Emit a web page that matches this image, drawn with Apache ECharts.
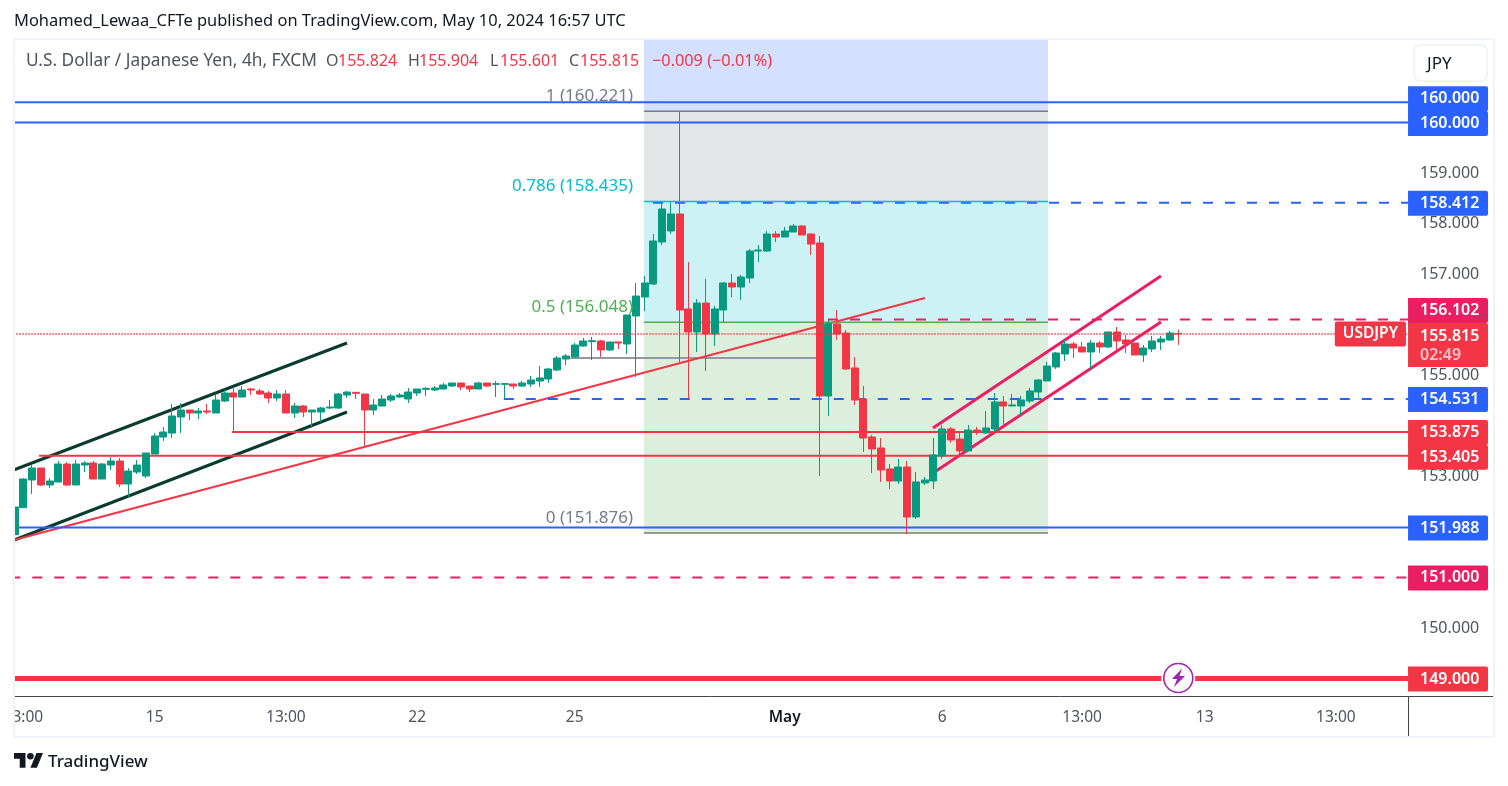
<!DOCTYPE html>
<html>
<head>
<meta charset="utf-8">
<style>html,body{margin:0;padding:0;background:#fff}#main{width:1508px;height:786px}</style>
<script src="https://cdn.jsdelivr.net/npm/echarts@6/dist/echarts.min.js"></script>
</head>
<body>
<div id="main"></div>
<script>
var FONT = '"Noto Sans", sans-serif';
var UP = '#089981', DOWN = '#f23645', BLUE = '#2962ff', PINK = '#e91e63';

// [open, close, low, high]
var candles = [
[151.845,152.393,151.845,152.511],[152.379,152.947,152.373,152.966],[152.927,153.164,152.650,153.223],[153.164,152.828,152.808,153.164],
[152.828,152.907,152.768,152.966],[152.887,153.243,152.887,153.303],[153.243,152.828,152.808,153.283],[152.828,153.243,152.828,153.322],
[153.223,153.263,153.085,153.303],[153.263,152.947,152.947,153.303],[152.947,153.243,152.947,153.263],[153.223,153.303,153.125,153.382],
[153.303,152.848,152.788,153.362],[152.848,153.105,152.590,153.164],[153.085,153.223,153.045,153.322],[153.006,153.461,152.966,153.461],
[153.441,153.797,153.441,153.856],[153.777,153.876,153.698,153.975],[153.856,154.193,153.758,154.430],[154.173,154.311,153.856,154.450],
[154.311,154.252,154.114,154.311],[154.252,154.292,154.133,154.351],[154.292,154.272,154.232,154.430],[154.252,154.509,154.252,154.608],
[154.489,154.648,154.470,154.707],[154.648,154.569,153.876,154.766],[154.569,154.707,154.569,154.786],[154.727,154.707,154.608,154.747],
[154.687,154.628,154.608,154.727],[154.648,154.549,154.450,154.687],[154.549,154.628,154.489,154.707],[154.628,154.252,154.252,154.707],
[154.252,154.391,154.153,154.450],[154.391,154.272,154.173,154.410],[154.272,154.311,153.955,154.311],[154.272,154.351,154.074,154.371],
[154.351,154.371,154.331,154.509],[154.351,154.628,154.331,154.648],[154.608,154.667,154.549,154.687],[154.661,154.641,154.529,154.661],
[154.628,154.312,153.599,154.628],[154.312,154.411,154.213,154.529],[154.391,154.529,154.391,154.608],[154.509,154.589,154.470,154.628],
[154.569,154.608,154.549,154.648],[154.529,154.668,154.450,154.747],[154.648,154.727,154.589,154.727],[154.720,154.740,154.589,154.767],
[154.707,154.747,154.687,154.786],[154.727,154.806,154.720,154.846],[154.786,154.846,154.767,154.846],[154.846,154.767,154.707,154.846],
[154.786,154.727,154.668,154.786],[154.727,154.846,154.727,154.865],[154.846,154.786,154.767,154.846],[154.819,154.833,154.569,154.885],
[154.819,154.833,154.529,154.846],[154.826,154.786,154.727,154.826],[154.786,154.846,154.767,154.885],[154.826,154.905,154.767,154.984],
[154.885,154.945,154.767,155.182],[154.925,155.123,154.846,155.142],[155.103,155.340,155.083,155.380],[155.320,155.380,155.202,155.419],
[155.360,155.597,155.360,155.637],[155.578,155.677,155.558,155.736],[155.663,155.683,155.301,155.756],[155.677,155.499,155.360,155.696],
[155.499,155.657,155.479,155.657],[155.657,155.637,155.518,155.657],[155.617,156.191,155.419,156.191],[156.171,156.567,154.964,156.824],
[156.547,156.824,156.270,156.962],[156.804,157.655,156.784,157.793],[157.635,158.288,157.576,158.446],[157.853,158.189,157.793,158.426],
[158.189,156.290,155.222,160.207],[156.310,155.855,154.531,157.239],[155.855,156.428,155.459,156.507],[156.428,155.815,155.083,156.903],
[155.815,156.310,155.578,156.369],[156.290,156.824,156.046,156.844],[156.824,156.745,156.547,157.002],[156.745,156.943,156.487,156.982],
[156.923,157.457,156.824,157.497],[157.457,157.477,157.239,157.576],[157.457,157.793,157.437,157.853],[157.793,157.734,157.635,157.853],
[157.734,157.853,157.734,157.932],[157.833,157.951,157.833,157.991],[157.951,157.773,157.773,157.971],[157.793,157.595,157.378,157.813],
[157.615,154.589,153.006,157.754],[154.589,156.013,154.193,156.092],[156.013,155.815,155.697,156.290],[155.835,155.123,155.103,155.895],
[155.143,154.510,154.411,155.360],[154.530,153.758,153.481,154.787],[153.778,153.540,153.066,153.817],[153.560,153.125,152.888,153.758],
[153.145,152.907,152.749,153.244],[152.907,153.184,152.848,153.343],[153.184,152.195,151.859,153.303],[152.195,152.888,152.156,153.086],
[152.868,152.927,152.828,152.987],[152.907,153.422,152.749,153.758],[153.402,153.936,153.343,154.015],[153.936,153.719,153.659,153.976],
[153.738,153.501,153.442,153.857],[153.501,153.916,153.501,154.015],[153.916,153.877,153.817,153.976],[153.857,153.956,153.837,154.292],
[153.936,154.470,153.877,154.648],[154.470,154.391,153.995,154.589],[154.391,154.411,154.391,154.628],[154.391,154.510,154.213,154.589],
[154.490,154.688,154.450,154.747],[154.668,154.905,154.510,154.925],[154.886,155.182,154.886,155.262],[155.163,155.440,155.123,155.459],
[155.420,155.618,155.281,155.697],[155.618,155.538,155.341,155.657],[155.558,155.459,155.459,155.657],[155.459,155.637,155.123,155.697],
[155.637,155.558,155.440,155.677],[155.558,155.855,155.538,155.855],[155.855,155.677,155.499,155.954],[155.697,155.618,155.440,155.796],
[155.637,155.400,155.400,155.637],[155.400,155.538,155.262,155.598],[155.519,155.677,155.459,155.776],[155.657,155.716,155.499,155.776],
[155.697,155.835,155.677,155.875],[155.824,155.815,155.601,155.904]
];
var barSlots = 160;    // candles plus the empty room to the right
var edgeBar = 159.24;  // bar number under the price scale

var tickPositions = [1, 16, 31, 46, 64, 88, 106, 122, 136, 151];
var tickLabels = ['13:00', '15', '13:00', '22', '25', 'May', '6', '13:00', '13', '13:00'];
var priceTicks = [150, 153, 155, 157, 158, 159];

// horizontal levels: price, badge text, first bar
var levelPrices = [160.4, 160.0, 158.412, 156.102, 154.531, 153.875, 153.405, 151.988, 151.0, 149.0];
var levelBadges = ['160.000', '160.000', '158.412', '156.102', '154.531', '153.875', '153.405', '151.988', '151.000', '149.000'];
var levelStarts = [-0.5, -0.5, 72.95, 92.95, 55.9, 24.84, 2.78, -0.5, -0.5, -0.5];
var lastPrice = 155.815;

// fib retracement
var fibBars = [71.92, 118.1];
var fibPrices = [161.7, 160.221, 158.435, 156.048, 151.876];
var fibNames = ['1 (160.221)', '0.786 (158.435)', '0.5 (156.048)', '0 (151.876)'];

// drawn trend lines, [bar, price]
var blackUpper = [[-0.5, 153.10], [37.98, 155.637]];
var blackLower = [[-0.5, 151.71], [37.98, 154.272]];
var redTrend = [[-0.5, 151.72], [104.04, 156.527]];
var pinkUpper = [[104.95, 153.955], [131, 156.962]];
var pinkLower = [[105.3, 153.105], [131, 156.052]];
var greyLevel = [[63.5, 155.34], [93.07, 155.34]];

var myChart = echarts.init(document.getElementById('main'), null, { renderer: 'canvas' });

function lineSeries(points, color, width, z) {
    return {
        type: 'line', xAxisIndex: 1, yAxisIndex: 0, data: points, symbol: 'none', silent: true, z: z,
        lineStyle: { color: color, width: width }
    };
}

var DASH = [10, 12];
var levelLook = [
    { color: BLUE, width: 2, type: 'solid', shift: -3.5 },
    { color: BLUE, width: 2, type: 'solid', shift: 1 },
    { color: BLUE, width: 2, type: DASH, shift: 0.5 },
    { color: PINK, width: 2, type: DASH, shift: -9 },
    { color: BLUE, width: 2, type: DASH, shift: 0.5 },
    { color: DOWN, width: 2, type: 'solid', shift: 0.5 },
    { color: DOWN, width: 2, type: 'solid', shift: 1.5 },
    { color: BLUE, width: 2, type: 'solid', shift: 0.5 },
    { color: PINK, width: 2, type: DASH, shift: 0.5 },
    { color: DOWN, width: 5, type: 'solid', shift: 0.5 }
];

var series = [];

// drawings sit under the fib fill, candles above it
series.push(lineSeries(greyLevel, '#9598a1', 2, 2));
series.push(lineSeries(blackUpper, '#0b3b2e', 3, 2));
series.push(lineSeries(blackLower, '#0b3b2e', 3, 2));
series.push(lineSeries(redTrend, DOWN, 2.2, 2));
series.push(lineSeries(pinkUpper, PINK, 3, 2));
series.push(lineSeries(pinkLower, PINK, 3, 2));

var fibFills = ['rgba(41,98,255,0.2)', 'rgba(120,123,134,0.2)', 'rgba(0,188,212,0.2)', 'rgba(76,175,80,0.2)'];
series.push({
    type: 'line', xAxisIndex: 1, yAxisIndex: 0, data: [], z: 3, silent: true,
    markArea: {
        silent: true,
        data: fibFills.map(function (c, i) {
            return [
                { coord: [fibBars[0], fibPrices[i]], itemStyle: { color: c } },
                { coord: [fibBars[1], fibPrices[i + 1]] }
            ];
        })
    }
});
var fibColors = ['#787b86', '#00bcd4', '#4caf50', '#787b86'];
fibNames.forEach(function (name, i) {
    series.push(lineSeries([[fibBars[0], fibPrices[i + 1]], [fibBars[1], fibPrices[i + 1]]], fibColors[i], 1.5, 3));
});
series.push({
    type: 'scatter', xAxisIndex: 1, yAxisIndex: 0, symbolSize: 0.1, z: 7, silent: true,
    itemStyle: { color: 'transparent', opacity: 1 },
    data: fibNames.map(function (name, i) {
        return {
            value: [70.67, fibPrices[i + 1]],
            label: {
                show: true, position: 'left', distance: 0, offset: [0, -15], formatter: name,
                color: fibColors[i], fontSize: 17, fontFamily: FONT
            }
        };
    })
});

series.push({
    type: 'candlestick', xAxisIndex: 0, yAxisIndex: 0, data: candles, barWidth: 7.4, z: 4, silent: true,
    itemStyle: { color: UP, color0: DOWN, borderColor: UP, borderColor0: DOWN, borderWidth: 1 }
});

levelPrices.forEach(function (price, i) {
    var look = levelLook[i];
    var s = lineSeries([[levelStarts[i], price], [edgeBar, price]], look.color, look.width, 2);
    s.lineStyle.type = look.type;
    s.endLabel = {
        show: true, formatter: levelBadges[i], distance: 0, offset: [0, look.shift], color: '#fff', backgroundColor: look.color,
        fontSize: 16, fontWeight: 600, fontFamily: FONT, align: 'left', verticalAlign: 'middle',
        width: 68, height: 15, lineHeight: 15, padding: [6, 0, 4, 12], borderRadius: [0, 2, 2, 0]
    };
    series.push(s);
});

// last price: dotted line, symbol tag, price badge with countdown
var last = lineSeries([[-0.5, lastPrice], [edgeBar, lastPrice]], DOWN, 1.3, 6);
last.lineStyle.type = [1.5, 1.5];
last.endLabel = {
    show: true, distance: 0, offset: [0, 11], align: 'left', verticalAlign: 'middle',
    backgroundColor: DOWN, borderRadius: [0, 2, 2, 0], padding: [4, 0, 2, 12], width: 68,
    formatter: '{a|155.815}\n{b|02:49}',
    rich: {
        a: { color: '#fff', fontSize: 16, fontWeight: 600, fontFamily: FONT, lineHeight: 19 },
        b: { color: 'rgba(255,255,255,0.7)', fontSize: 16, fontWeight: 600, fontFamily: FONT, lineHeight: 19 }
    }
};
series.push(last);
series.push({
    type: 'scatter', xAxisIndex: 1, yAxisIndex: 0, symbolSize: 0.1, z: 7, silent: true,
    itemStyle: { color: 'transparent', opacity: 1 },
    data: [{
        value: [edgeBar, lastPrice],
        label: {
            show: true, position: 'left', distance: 2, formatter: 'USDJPY', color: '#fff',
            backgroundColor: DOWN, borderRadius: 2, padding: [5, 8, 4, 8],
            fontSize: 15.5, fontWeight: 600, fontFamily: FONT
        }
    }]
});

function legendText(x, text, color, size) {
    return { type: 'text', x: x, y: 61, z: 50, style: { text: text, fill: color, font: (size || 16) + 'px ' + FONT, verticalAlign: 'middle' } };
}
var GREY_TEXT = '#50535e';
var graphics = [
    // mask what hangs over the left frame edge
    { type: 'rect', z: 40, shape: { x: 0, y: 30, width: 14, height: 720 }, style: { fill: '#fff' } },
    { type: 'rect', z: 41, shape: { x: 14, y: 39, width: 1480, height: 698 }, style: { fill: 'none', stroke: '#f0f3fa', lineWidth: 2 } },
    { type: 'line', z: 42, shape: { x1: 1408, y1: 696.5, x2: 1493, y2: 696.5 }, style: { stroke: '#434651', lineWidth: 1 } },
    { type: 'line', z: 42, shape: { x1: 1408.5, y1: 696, x2: 1408.5, y2: 736 }, style: { stroke: '#434651', lineWidth: 1 } },
    { type: 'text', x: 14, y: 21, z: 50, style: { text: 'Mohamed_Lewaa_CFTe published on TradingView.com, May 10, 2024 16:57 UTC', fill: '#131722', font: '16.45px ' + FONT, verticalAlign: 'middle' } },
    legendText(26, 'U.S. Dollar / Japanese Yen, 4h, FXCM', GREY_TEXT, 17.3),
    legendText(326, 'O', GREY_TEXT), legendText(338, '155.824', DOWN),
    legendText(408, 'H', GREY_TEXT), legendText(419, '155.904', DOWN),
    legendText(490, 'L', GREY_TEXT), legendText(500, '155.601', DOWN),
    legendText(569, 'C', GREY_TEXT), legendText(580, '155.815', DOWN),
    legendText(652, '\u22120.009 (\u22120.01%)', DOWN, 16.3),
    { type: 'rect', z: 42, shape: { x: 1414, y: 45, width: 73, height: 36, r: 6 }, style: { fill: '#fff', stroke: '#f0f3fa', lineWidth: 2 } },
    { type: 'text', x: 1427, y: 64, z: 50, style: { text: 'JPY', fill: '#131722', font: '17px ' + FONT, verticalAlign: 'middle' } },
    // alert icon on the 149 line
    { type: 'circle', z: 43, shape: { cx: 1178.3, cy: 678, r: 17 }, style: { fill: '#fff' } },
    { type: 'circle', z: 44, shape: { cx: 1178.3, cy: 678, r: 14.5 }, style: { fill: '#fff', stroke: '#9c27b0', lineWidth: 1.6 } },
    { type: 'polygon', z: 45, shape: { points: [[1182, 668.5], [1172, 679], [1177, 679], [1174, 687], [1185, 676], [1179.5, 676]] }, style: { fill: '#9c27b0' } },
    // TradingView mark
    { type: 'polygon', z: 50, shape: { points: [[14, 753], [25.5, 753], [25.5, 767.8], [19.7, 767.8], [19.7, 758.8], [14, 758.8]] }, style: { fill: '#131722' } },
    { type: 'polygon', z: 50, shape: { points: [[30.4, 767.8], [36.5, 753], [43, 753], [36.9, 767.8]] }, style: { fill: '#131722' } },
    { type: 'circle', z: 50, shape: { cx: 30.4, cy: 756.3, r: 3.3 }, style: { fill: '#131722' } },
    { type: 'text', x: 48, y: 762, z: 50, style: { text: 'TradingView', fill: '#131722', font: '500 17px ' + FONT, verticalAlign: 'middle' } }
];

var option = {
    animation: false,
    backgroundColor: '#fff',
    grid: { left: 10.3, right: 97.7, top: 40, bottom: 90, containLabel: false },
    xAxis: [{
        type: 'category',
        data: Array.from({ length: barSlots }, function (_, i) { return String(i); }),
        boundaryGap: true,
        axisLine: { lineStyle: { color: '#434651', width: 1 } },
        axisTick: { show: false },
        splitLine: { show: false },
        axisLabel: {
            interval: function (i) { return tickPositions.indexOf(i) >= 0; },
            formatter: function (v, i) {
                var label = tickLabels[tickPositions.indexOf(i)];
                return label === 'May' ? '{b|May}' : label;
            },
            rich: { b: { color: '#131722', fontSize: 15.5, fontWeight: 600, fontFamily: FONT } },
            color: '#50535e', fontSize: 15.5, fontFamily: FONT, margin: 14, hideOverlap: false
        }
    }, {
        type: 'value', show: false, min: -0.5, max: barSlots - 0.5, splitLine: { show: false }
    }],
    yAxis: [{
        type: 'value', position: 'right', offset: -2.3, min: 148.654, max: 161.631, scale: true,
        axisLine: { show: true, lineStyle: { color: '#434651', width: 1 } },
        axisTick: { show: false },
        splitLine: { show: false },
        axisLabel: {
            customValues: priceTicks,
            formatter: function (v) { return v.toFixed(3); },
            color: '#50535e', fontSize: 16, fontFamily: FONT, margin: 12, padding: [7, 0, 0, 0]
        }
    }],
    graphic: graphics,
    series: series
};

myChart.setOption(option);
</script>
</body>
</html>
